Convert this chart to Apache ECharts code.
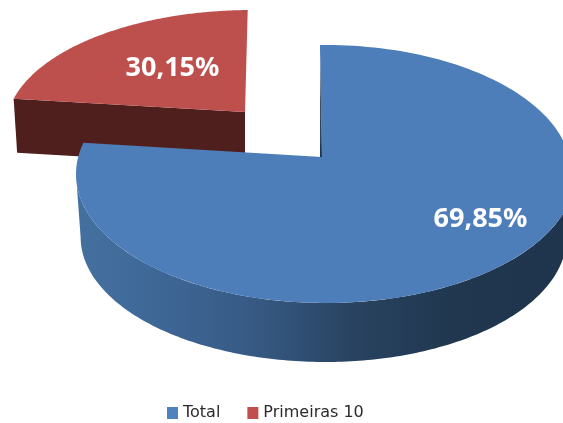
<!DOCTYPE html>
<html>
<head>
<meta charset="utf-8">
<style>html,body{margin:0;padding:0;background:#fff}#chart{width:563px;height:423px}</style>
<script src="https://cdn.jsdelivr.net/npm/echarts@6/dist/echarts.min.js"></script>
</head>
<body>
<div id="chart"></div>
<script>
// Share of the total held by each group, in percent
const categories = ['Total', 'Primeiras 10'];
const shares = [69.85, 30.15];

const BLUE_TOP = '#4e7eb9', RED_TOP = '#bd4f4d', RED_WALL = '#4f1f1d';
const STEPS = 180;
const rad = d => d * Math.PI / 180;

// The slice edges are bent slightly to follow the tilted 3D view
const viewBend = 41.7;
const edgeAngle = ccw => ccw - viewBend * Math.sin(rad(ccw / 2));

// Points along a rim; the perspective makes the right side narrower than
// the left, so each right-hand quadrant may carry its own horizontal radius.
function arcPoints(e, from, to) {
  const pts = [];
  for (let i = 0; i <= STEPS; i++) {
    const a = rad(from + (to - from) * i / STEPS);
    const s = Math.sin(a), c = Math.cos(a);
    let rx = e.rx;
    if (s > 0 && c > 0 && e.rxUpperRight) rx = e.rxUpperRight;
    if (s > 0 && c < 0 && e.rxLowerRight) rx = e.rxLowerRight;
    pts.push([e.cx + rx * s, e.cy - e.ry * c]);
  }
  return pts;
}

const blueView = {
  top: { cx: 325.6, cy: 174, rx: 249.6, rxUpperRight: 246, ry: 129 },
  bottom: { cx: 325.6, cy: 237, rx: 245, rxLowerRight: 241, ry: 125 },
  apex: [322, 157], start: -1.3, label: [480.5, 219]
};
const redView = {
  top: { cx: 252, cy: 128, rx: 246, ry: 118 },
  apex: [245, 112], start: -1, drop: [3.5, 54], label: [172.5, 68]
};

const wallFill = {
  type: 'linear', global: true, x: 76, y: 0, x2: 563, y2: 0,
  colorStops: [
    { offset: 0, color: '#44709f' }, { offset: 0.14, color: '#3f6998' },
    { offset: 0.36, color: '#375a85' }, { offset: 0.58, color: '#28425f' },
    { offset: 0.78, color: '#20374f' }, { offset: 1, color: '#1f344d' }
  ]
};

const percentText = v => v.toFixed(2).replace('.', ',') + '%';
const labelStyle = (v, pos) => ({
  type: 'text', z2: 20,
  style: {
    text: percentText(v), x: pos[0], y: pos[1], align: 'center', verticalAlign: 'middle',
    fill: '#fff', font: 'bold 27px "Noto Sans", "Open Sans", sans-serif'
  }
});

function renderBlue(params, api) {
  const v = api.value(0), V = blueView;
  const sweep = 360 - edgeAngle(360 - 360 * v / 100);
  const rim = arcPoints(V.top, V.start, V.start + sweep);
  const first = rim[0];
  const wall = arcPoints(V.top, 90, 270).concat(arcPoints(V.bottom, 270, 90));
  const t = 0.85;
  const sliver = [
    V.apex,
    [V.apex[0] + (first[0] - V.apex[0]) * t, V.apex[1] + (first[1] - V.apex[1]) * t],
    [V.apex[0] - 2, V.apex[1]]
  ];
  return {
    type: 'group',
    children: [
      { type: 'polygon', shape: { points: wall }, style: { fill: wallFill } },
      { type: 'polygon', shape: { points: [V.apex].concat(rim) }, style: { fill: BLUE_TOP } },
      { type: 'polygon', shape: { points: sliver }, style: { fill: '#1f3650' } },
      labelStyle(v, V.label)
    ]
  };
}

function renderRed(params, api) {
  const v = api.value(0), V = redView;
  const sweep = edgeAngle(360 * v / 100);
  const rim = arcPoints(V.top, V.start, V.start - sweep);
  const corner = rim[rim.length - 1];
  const wall = [
    corner, V.apex,
    [V.apex[0], V.apex[1] + V.drop[1]],
    [corner[0] + V.drop[0], corner[1] + V.drop[1]]
  ];
  return {
    type: 'group',
    children: [
      { type: 'polygon', shape: { points: wall }, style: { fill: RED_WALL } },
      { type: 'polygon', shape: { points: [V.apex].concat(rim) }, style: { fill: RED_TOP } },
      labelStyle(v, V.label)
    ]
  };
}

const chart = echarts.init(document.getElementById('chart'), null, { renderer: 'canvas' });
chart.setOption({
  animation: false,
  backgroundColor: '#fff',
  legend: {
    data: categories, left: 162, top: 400, itemWidth: 11, itemHeight: 12, itemGap: 27,
    icon: 'rect', selectedMode: false,
    textStyle: { color: '#2b2b2b', fontSize: 16, fontFamily: 'DejaVu Sans' }
  },
  series: [
    { type: 'custom', name: categories[0], coordinateSystem: 'none', z: 3, silent: true,
      itemStyle: { color: '#4f81bd' }, data: [[shares[0]]], renderItem: renderBlue },
    { type: 'custom', name: categories[1], coordinateSystem: 'none', z: 2, silent: true,
      itemStyle: { color: '#c0504d' }, data: [[shares[1]]], renderItem: renderRed }
  ]
});
</script>
</body>
</html>
